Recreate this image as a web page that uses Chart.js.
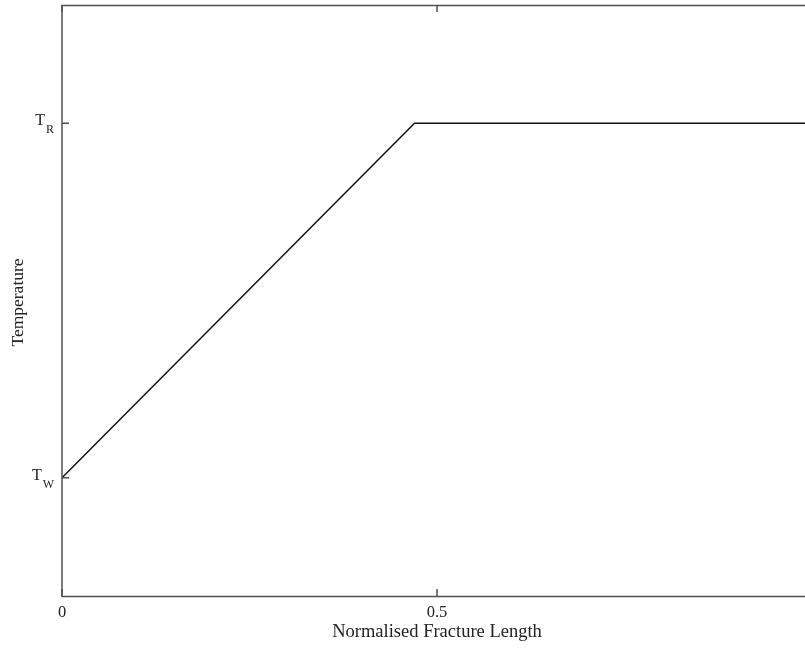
<!DOCTYPE html>
<html>
<head>
<meta charset="utf-8">
<script src="https://cdn.jsdelivr.net/npm/chart.js@4"></script>
<style>
html,body{margin:0;padding:0;background:#fff;overflow:hidden;}
#wrap{width:820px;height:648px;}
</style>
</head>
<body>
<div id="wrap"><canvas id="c" width="820" height="648"></canvas></div>
<script>
// Data
const xValues = [0, 0.47, 1];
const temperature = [0, 1, 1];
const xTickValues = [0, 0.5, 1];
const xTickLabels = ['0', '0.5', '1'];
const yTickValues = [0, 1];
const yTickMain = ['T', 'T'];
const yTickSub = ['W', 'R'];
const xTitle = 'Normalised Fracture Length';
const yTitle = 'Temperature';

const FONT = '"Liberation Serif", "Times New Roman", serif';
const AXIS_COLOR = '#505050';

const framePlugin = {
  id: 'frame',
  afterDraw(chart) {
    const ctx = chart.ctx;
    const a = chart.chartArea;
    const xs = chart.scales.x, ys = chart.scales.y;
    ctx.save();
    ctx.strokeStyle = AXIS_COLOR;
    ctx.lineWidth = 1.5;
    ctx.strokeRect(a.left, a.top + 0.5, a.right - a.left, a.bottom - a.top);
    const tl = 7;
    ctx.beginPath();
    xTickValues.forEach(v => {
      const px = xs.getPixelForValue(v);
      ctx.moveTo(px, a.bottom); ctx.lineTo(px, a.bottom - tl);
      ctx.moveTo(px, a.top); ctx.lineTo(px, a.top + tl);
    });
    yTickValues.forEach(v => {
      const py = ys.getPixelForValue(v);
      ctx.moveTo(a.left, py); ctx.lineTo(a.left + tl, py);
      ctx.moveTo(a.right, py); ctx.lineTo(a.right - tl, py);
    });
    ctx.stroke();

    ctx.fillStyle = '#222222';
    // x tick labels
    ctx.font = '16.5px ' + FONT;
    ctx.textAlign = 'center';
    ctx.textBaseline = 'top';
    xTickValues.forEach((v, i) => {
      ctx.fillText(xTickLabels[i], xs.getPixelForValue(v), a.bottom + 8);
    });
    // y tick labels with subscripts
    yTickValues.forEach((v, i) => {
      const py = ys.getPixelForValue(v);
      ctx.textBaseline = 'alphabetic';
      ctx.textAlign = 'right';
      ctx.font = '12px ' + FONT;
      const subW = ctx.measureText(yTickSub[i]).width;
      const subX = a.left - 8;
      ctx.fillText(yTickSub[i], subX, py + 10);
      ctx.font = '16px ' + FONT;
      ctx.fillText(yTickMain[i], subX - subW - 1, py + 2);
    });
    // titles
    ctx.font = '18.5px ' + FONT;
    ctx.textAlign = 'center';
    ctx.textBaseline = 'middle';
    ctx.fillText(xTitle, (a.left + a.right) / 2, 632);
    ctx.save();
    ctx.translate(18, (a.top + a.bottom) / 2 + 2);
    ctx.rotate(-Math.PI / 2);
    ctx.font = '17.5px ' + FONT;
    ctx.fillText(yTitle, 0, 0);
    ctx.restore();
    ctx.restore();
  }
};

new Chart(document.getElementById('c'), {
  type: 'line',
  data: {
    labels: xValues,
    datasets: [{
      data: xValues.map((x, i) => ({x: x, y: temperature[i]})),
      borderColor: '#111111',
      borderWidth: 1.5,
      pointRadius: 0,
      tension: 0,
      fill: false
    }]
  },
  options: {
    responsive: false,
    animation: false,
    devicePixelRatio: 1,
    layout: { padding: { left: 62, right: 8, top: 5, bottom: 52 } },
    plugins: { legend: { display: false }, tooltip: { enabled: false } },
    scales: {
      x: { type: 'linear', min: 0, max: 1, display: false },
      y: { type: 'linear', min: -1/3, max: 4/3, display: false }
    }
  },
  plugins: [framePlugin]
});
</script>
</body>
</html>
